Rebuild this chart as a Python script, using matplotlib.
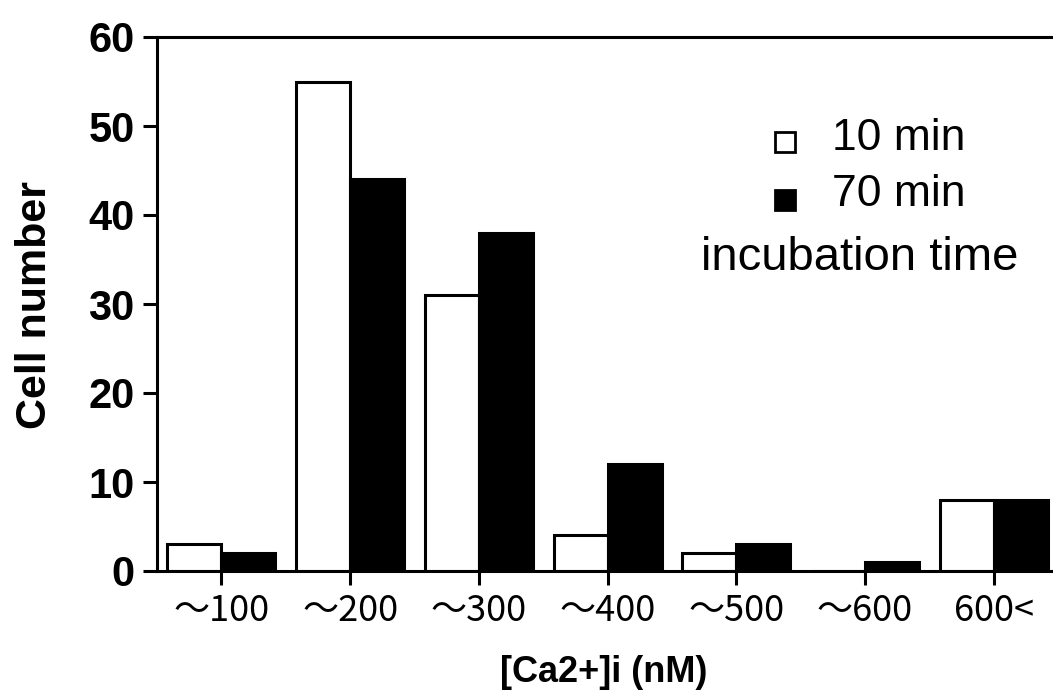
import matplotlib
matplotlib.use("Agg")
import matplotlib.pyplot as plt
from matplotlib.patches import Rectangle
import numpy as np

categories = ["～100", "～200", "～300", "～400", "～500", "～600", "600<"]
min10 = [3, 55, 31, 4, 2, 0, 8]
min70 = [2, 44, 38, 12, 3, 1, 8]
yticks = [0, 10, 20, 30, 40, 50, 60]

plt.rcParams['font.family'] = ['Liberation Sans', 'DejaVu Sans']

fig = plt.figure(figsize=(10.53, 6.94), dpi=100)
ax = fig.add_axes([157/1053, 1-571/694, 1-157/1053, (571-37)/694])

x = np.arange(len(categories))
w = 0.42
ax.bar(x - w/2, min10, width=w, color='white', edgecolor='black', linewidth=2.2, zorder=2)
ax.bar(x + w/2, min70, width=w, color='black', edgecolor='black', linewidth=2.2, zorder=2)

ax.set_xlim(-0.5, 6.46)
ax.set_ylim(0, 60)
ax.set_yticks(yticks)
ax.set_yticklabels([str(v) for v in yticks], fontsize=30, fontweight='bold')
ax.set_xticks(x)
ax.set_xticklabels(categories, fontsize=26, family=['Noto Sans CJK JP', 'DejaVu Sans'])
ax.tick_params(axis='both', direction='out', length=10, width=2.2, color='black')
ax.tick_params(axis='y', pad=6)
ax.tick_params(axis='x', pad=6)

for s in ['left', 'bottom', 'top']:
    ax.spines[s].set_linewidth(2.2)
ax.spines['right'].set_visible(False)

ax.set_xlabel("[Ca2+]i (nM)", fontsize=26, fontweight='bold')
ax.set_ylabel("Cell number", fontsize=31, fontweight='bold')
ax.xaxis.set_label_coords((604 - 157) / 896, (571 - 672) / 534)
ax.yaxis.set_label_coords((35 - 157) / 896, (571 - 305) / 534)
ax.xaxis.label.set_va('center')
ax.yaxis.label.set_va('center')

# legend
tr = ax.transAxes
def ax_xy(px, py):
    return ((px - 157) / 896, (571 - py) / 534)

x0, y0 = ax_xy(775, 152)
x1, y1 = ax_xy(795, 132)
ax.add_patch(Rectangle((x0, y0), x1 - x0, y1 - y0, transform=tr, facecolor='white',
                       edgecolor='black', linewidth=2, clip_on=False, zorder=5))
x0, y0 = ax_xy(775, 210)
x1, y1 = ax_xy(795, 190)
ax.add_patch(Rectangle((x0, y0), x1 - x0, y1 - y0, transform=tr, facecolor='black',
                       edgecolor='black', linewidth=2, clip_on=False, zorder=5))
tx, ty = ax_xy(832, 138)
ax.text(tx, ty, "10 min", transform=tr, fontsize=32, ha='left', va='center')
tx, ty = ax_xy(832, 195)
ax.text(tx, ty, "70 min", transform=tr, fontsize=32, ha='left', va='center')
tx, ty = ax_xy(860, 258)
ax.text(tx, ty, "incubation time", transform=tr, fontsize=34, ha='center', va='center')

fig.savefig("out.png", dpi=100)
